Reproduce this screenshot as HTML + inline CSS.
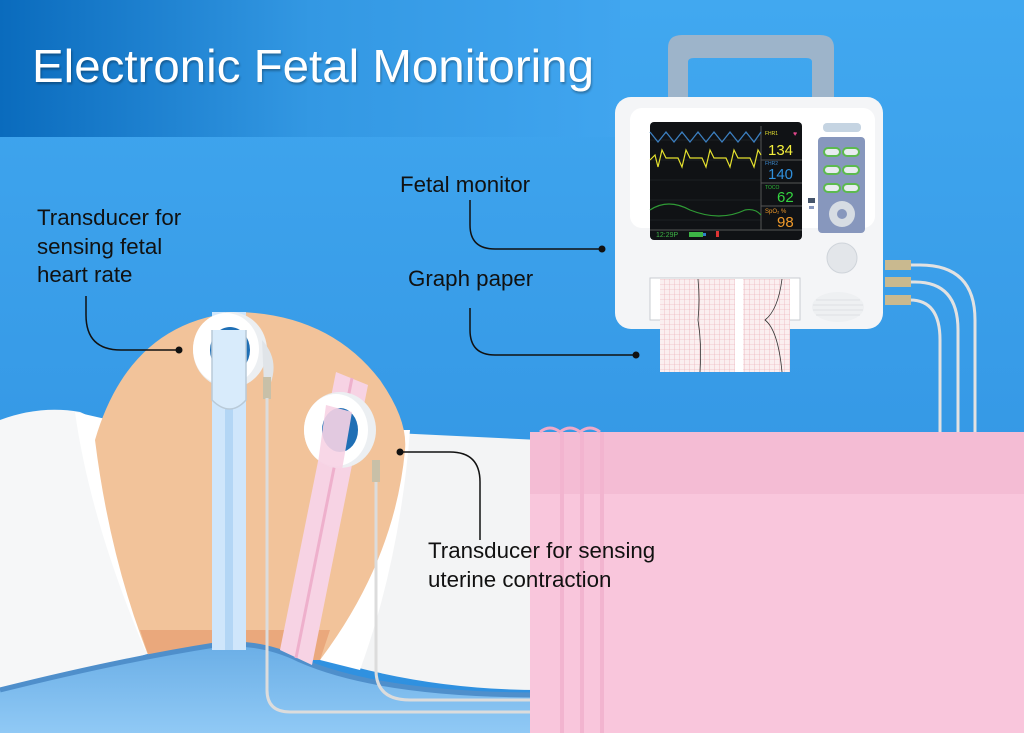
<!DOCTYPE html>
<html><head><meta charset="utf-8"><style>html,body{margin:0;padding:0;overflow:hidden}svg{display:block}</style></head>
<body>
<svg width="1024" height="733" viewBox="0 0 1024 733" xmlns="http://www.w3.org/2000/svg" font-family="Liberation Sans, sans-serif">
<defs>
<linearGradient id="bg" x1="0" y1="0" x2="0" y2="1"><stop offset="0" stop-color="#41a8f0"/><stop offset="1" stop-color="#2e8fdf"/></linearGradient>
<linearGradient id="ban" x1="0" y1="0" x2="1" y2="0"><stop offset="0" stop-color="#0a6bbd"/><stop offset="0.5" stop-color="#3398e3"/><stop offset="1" stop-color="#40a5ef"/></linearGradient>
<linearGradient id="bed" x1="0" y1="0" x2="0" y2="1"><stop offset="0" stop-color="#6aaee6"/><stop offset="1" stop-color="#90c9f5"/></linearGradient>
<pattern id="grid" width="5" height="5" patternUnits="userSpaceOnUse"><rect width="5" height="5" fill="#fbeff0"/><path d="M5 0V5H0" fill="none" stroke="#e8a5ad" stroke-width="0.6"/></pattern>
</defs>
<rect width="1024" height="733" fill="url(#bg)"/>
<rect x="0" y="0" width="620" height="137" fill="url(#ban)"/>
<text x="32" y="82" font-size="46" fill="#fff" textLength="562" lengthAdjust="spacingAndGlyphs" style="text-shadow:1px 2px 2px rgba(0,0,0,.3)">Electronic Fetal Monitoring</text>

<path d="M0 420 Q40 405 80 412 L120 430 L160 650 L0 700 Z" fill="#f6f7f8"/>
<path d="M75 412 Q90 520 145 650 L160 650 L110 420 Z" fill="#ffffff"/>
<path d="M330 430 L540 440 L540 690 Q430 690 330 660 Z" fill="#f3f4f5"/>
<path d="M395 430 Q380 560 320 660 L360 670 Q400 560 410 430 Z" fill="#ffffff"/>
<path d="M95 440 Q130 320 240 312 Q330 315 380 380 Q408 420 405 450 Q395 560 320 660 L150 660 Q110 560 95 440 Z" fill="#f2c39a"/>
<path d="M140 630 L330 630 L320 660 L150 660 Z" fill="#eaa87c"/>
<path d="M0 690 Q120 660 215 645 Q260 640 300 660 Q380 695 540 695 L540 733 L0 733 Z" fill="url(#bed)"/>
<path d="M0 690 Q120 660 215 645 Q260 640 300 660 Q380 695 540 695" fill="none" stroke="#4f8fcb" stroke-width="5"/>
<rect x="212" y="312" width="34" height="338" fill="#cfe6fb"/>
<rect x="225" y="312" width="8" height="338" fill="#b3d6f5"/>
<polygon points="336,372 368,385 312,665 280,650" fill="#f7d3e4"/>
<line x1="352" y1="378" x2="296" y2="658" stroke="#eeb0cc" stroke-width="3"/>
<ellipse cx="230" cy="350" rx="37" ry="38" fill="#eceff2"/>
<ellipse cx="226" cy="349" rx="33" ry="36" fill="#fff"/>
<ellipse cx="230" cy="350" rx="20" ry="23" fill="#1f6fb5"/>
<path d="M212 330 L212 400 Q230 418 246 400 L246 330" fill="#d8ebfb" stroke="#b9cad8" stroke-width="1.5"/>
<path d="M262 340 Q280 360 270 385 L264 385 Z" fill="#e0e4e8"/>
<rect x="263" y="377" width="8" height="22" fill="#c8c0a8"/>
<ellipse cx="340" cy="430" rx="36" ry="38" fill="#eceff2"/>
<ellipse cx="336" cy="430" rx="32" ry="36" fill="#fff"/>
<ellipse cx="340" cy="430" rx="18" ry="22" fill="#1f6fb5"/>
<polygon points="326,405 352,412 342,470 318,463" fill="#f7d3e4" opacity="0.9"/>
<rect x="372" y="460" width="8" height="22" fill="#c8c0a8"/>
<path d="M267 398 L267 690 Q267 712 290 712 L540 712" fill="none" stroke="#dcdcdc" stroke-width="3"/>
<path d="M376 482 L376 670 Q376 700 410 700 L540 700" fill="none" stroke="#dcdcdc" stroke-width="3"/>
<rect x="530" y="432" width="494" height="301" fill="#f9c6dc"/>
<rect x="530" y="432" width="494" height="62" fill="#f4bcd4"/>
<path d="M540 432 Q550 424 560 432 Q570 424 580 432 Q590 424 600 432" fill="none" stroke="#f0a9c7" stroke-width="3"/>
<rect x="560" y="432" width="4" height="301" fill="#f2b4cf"/><rect x="580" y="432" width="4" height="301" fill="#f2b4cf"/><rect x="600" y="432" width="4" height="301" fill="#f2b4cf"/>

<path d="M895 265 L920 265 Q975 265 975 320 L975 432" fill="none" stroke="#e2e2e2" stroke-width="3"/>
<path d="M895 282 L915 282 Q958 282 958 330 L958 432" fill="none" stroke="#e2e2e2" stroke-width="3"/>
<path d="M895 300 L910 300 Q940 300 940 340 L940 432" fill="none" stroke="#e2e2e2" stroke-width="3"/>
<rect x="885" y="260" width="26" height="10" fill="#c9b98f"/><rect x="885" y="277" width="26" height="10" fill="#c9b98f"/><rect x="885" y="295" width="26" height="10" fill="#c9b98f"/>
<path d="M668 100 L668 48 Q668 35 682 35 L820 35 Q834 35 834 48 L834 100 L812 100 L812 62 Q812 58 806 58 L694 58 Q688 58 688 62 L688 100 Z" fill="#9db4ca"/>
<rect x="615" y="97" width="268" height="232" rx="16" fill="#f4f5f7"/>
<rect x="630" y="108" width="245" height="120" rx="12" fill="#ffffff"/>
<rect x="650" y="122" width="152" height="118" rx="4" fill="#101215"/>
<g stroke="#2a2e33" stroke-width="0.6"><line x1="650" y1="140" x2="761" y2="140"/><line x1="650" y1="160" x2="761" y2="160"/><line x1="650" y1="180" x2="761" y2="180"/><line x1="650" y1="200" x2="761" y2="200"/><line x1="650" y1="220" x2="761" y2="220"/></g>
<line x1="761" y1="126" x2="761" y2="230" stroke="#555"/>
<g stroke="#555"><line x1="761" y1="160" x2="802" y2="160"/><line x1="761" y1="183" x2="802" y2="183"/><line x1="761" y1="206" x2="802" y2="206"/><line x1="650" y1="230" x2="802" y2="230"/></g>
<polyline points="650,132 658,142 666,132 674,142 682,132 690,142 698,132 706,142 714,132 722,142 730,132 738,142 746,132 754,142 761,132" fill="none" stroke="#3b7fc0" stroke-width="1.3"/>
<polyline points="650,160 655,155 658,167 662,150 666,158 678,158 682,167 686,150 690,158 702,158 706,167 710,150 714,158 726,158 730,167 734,150 738,158 750,158 754,167 758,150 761,155" fill="none" stroke="#e4e02e" stroke-width="1.2"/>
<path d="M650 210 Q668 198 690 210 Q720 222 745 210 Q755 208 761 215" fill="none" stroke="#2f9a35" stroke-width="1.2"/>
<text x="765" y="135" font-size="5" fill="#e4e02e">FHR1</text><text x="793" y="136" font-size="7" fill="#e0468a">♥</text>
<text x="768" y="155" font-size="15" fill="#f3ee3c">134</text>
<text x="765" y="165" font-size="5" fill="#3b86c9">FHR2</text>
<text x="768" y="179" font-size="15" fill="#2f8fdc">140</text>
<text x="765" y="189" font-size="5" fill="#2fbd3a">TOCO</text>
<text x="777" y="202" font-size="15" fill="#34d440">62</text>
<text x="765" y="213" font-size="6" fill="#f09a2a">SpO₂ %</text>
<text x="777" y="227" font-size="15" fill="#f09a2a">98</text>
<text x="656" y="237" font-size="7" fill="#3db546">12:29P</text>
<rect x="689" y="232" width="14" height="5" fill="#3db546"/><rect x="703" y="233" width="3" height="3" fill="#2d7fc8"/>
<rect x="716" y="231" width="3" height="6" fill="#d33"/>
<rect x="823" y="123" width="38" height="9" rx="4" fill="#c5d4e2"/>
<rect x="818" y="137" width="47" height="96" rx="4" fill="#8797bd"/>
<g fill="#e8ecef" stroke="#5cba4f" stroke-width="2"><rect x="824" y="148" width="16" height="8" rx="4"/><rect x="843" y="148" width="16" height="8" rx="4"/><rect x="824" y="166" width="16" height="8" rx="4"/><rect x="843" y="166" width="16" height="8" rx="4"/><rect x="824" y="184" width="16" height="8" rx="4"/><rect x="843" y="184" width="16" height="8" rx="4"/></g>
<circle cx="842" cy="214" r="13" fill="#d6dce3"/><circle cx="842" cy="214" r="5" fill="#8797bd"/>
<rect x="808" y="198" width="7" height="5" fill="#45546a"/><rect x="809" y="206" width="5" height="3" fill="#8797bd"/>
<circle cx="842" cy="258" r="15" fill="#e3e6ea" stroke="#cfd4da"/>
<ellipse cx="838" cy="307" rx="26" ry="15" fill="#eef0f2"/>
<g stroke="#dde0e4" stroke-width="1"><line x1="816" y1="300" x2="860" y2="300"/><line x1="813" y1="305" x2="863" y2="305"/><line x1="813" y1="310" x2="863" y2="310"/><line x1="816" y1="315" x2="860" y2="315"/></g>
<rect x="650" y="278" width="150" height="42" fill="#fff" stroke="#c8ccd2"/>
<rect x="660" y="279" width="130" height="93" fill="url(#grid)"/>
<rect x="735" y="279" width="8" height="93" fill="#fff"/>
<path d="M698 279 Q700 300 698 320 Q702 345 700 372" fill="none" stroke="#333" stroke-width="0.8"/>
<path d="M782 279 Q778 310 765 320 Q778 330 782 372" fill="none" stroke="#333" stroke-width="0.8"/>

<g font-size="22.3" fill="#111">
<text x="37" y="225">Transducer for</text>
<text x="37" y="254">sensing fetal</text>
<text x="37" y="282">heart rate</text>
<text x="400" y="192">Fetal monitor</text>
<text x="408" y="286">Graph paper</text>
<text x="428" y="558">Transducer for sensing</text>
<text x="428" y="587">uterine contraction</text>
</g>
<g fill="none" stroke="#111" stroke-width="1.5">
<path d="M86 296 L86 315 Q86 350 121 350 L178 350"/>
<path d="M470 200 L470 225 Q470 249 495 249 L602 249"/>
<path d="M470 308 L470 330 Q470 355 495 355 L636 355"/>
<path d="M400 452 L450 452 Q480 452 480 482 L480 540"/>
</g>
<g fill="#111"><circle cx="179" cy="350" r="3.5"/><circle cx="602" cy="249" r="3.5"/><circle cx="636" cy="355" r="3.5"/><circle cx="400" cy="452" r="3.5"/></g>
</svg>
</body></html>
